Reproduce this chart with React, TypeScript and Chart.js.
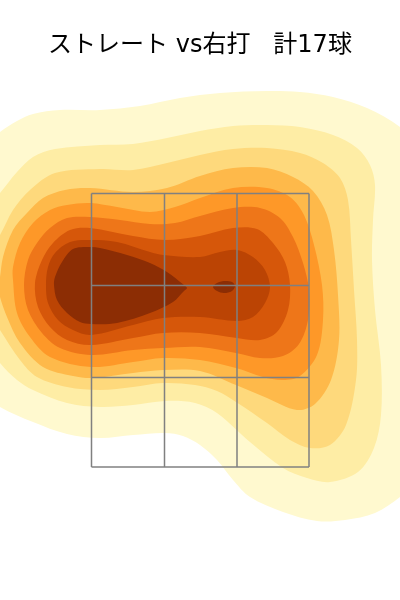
import React, { useEffect, useRef } from "react";
import { Chart, registerables } from "chart.js";

Chart.register(...registerables);

type P = [number, number];

const TITLE = "ストレート vs右打   計17球";

const zoneX = [91.5, 164.5, 237, 309];
const zoneY = [193.5, 285.5, 377.5, 467];
const ZONE_COLOR = "#808080";

const level1: P[] = [[-20,150],[0,132],[17,121],[33,114],[60,110],[100,110],[140,106],[180,98],[220,93],[267,91],[300,92],[333,97],[367,108],[400,127],[430,155],[430,470],[400,497],[375,513],[345,520],[317,521],[283,512],[250,497],[233,480],[217,460],[200,445],[183,436],[165,433],[133,435],[100,438],[67,434],[33,422],[0,407],[-20,390]];
const level2: P[] = [[-20,215],[0,193],[17,172],[33,157],[55,149],[100,145],[133,144],[167,138],[200,131],[233,126],[267,125],[300,127],[333,135],[357,148],[370,165],[375,185],[373,220],[372,260],[375,310],[381,365],[381,415],[374,448],[358,472],[330,482],[307,478],[283,468],[250,442],[217,413],[195,403],[165,401],[133,405],[100,407],[67,403],[33,390],[17,380],[0,363],[-20,335]];
const level3: P[] = [[-20,265],[0,235],[13,210],[30,190],[55,173],[100,169],[133,170],[167,163],[200,155],[233,149],[267,148],[300,153],[323,163],[340,178],[348,200],[351,240],[354,290],[357,340],[356,380],[346,425],[330,445],[310,448],[290,440],[267,423],[236,402],[217,391],[195,385],[163,383],[133,387],[100,390],[67,387],[37,377],[20,360],[0,330],[-20,298]];
const level4: P[] = [[-2,285],[0,277],[3,257],[13,230],[27,213],[43,198],[65,190],[90,188],[133,192],[167,188],[200,176],[233,168],[267,168],[293,177],[313,191],[327,215],[334,250],[338,295],[339,340],[331,380],[315,404],[297,410],[267,398],[236,385],[200,371],[163,370],[133,373],[93,378],[73,376],[43,367],[20,343],[7,317],[0,297]];
const level5: P[] = [[13,280],[13,267],[20,243],[33,223],[50,210],[67,205],[90,203],[117,207],[150,212],[175,207],[200,198],[233,188],[267,188],[290,197],[304,215],[314,245],[322,285],[323,320],[317,355],[300,376],[283,380],[263,377],[236,368],[200,360],[163,358],[133,362],[91,367],[50,357],[30,337],[17,313]];
const level6: P[] = [[24,285],[28,260],[37,243],[50,228],[67,218],[90,217],[120,220],[150,224],[175,223],[200,216],[233,208],[260,208],[280,218],[293,237],[303,263],[309,290],[308,320],[299,344],[283,356],[260,358],[236,353],[200,347],[163,348],[133,350],[91,355],[60,348],[42,333],[28,310]];
const level7: P[] = [[35,283],[42,260],[53,243],[70,230],[90,228],[133,236],[165,240],[200,236],[233,228],[257,229],[273,243],[285,262],[290,285],[288,310],[277,332],[260,340],[237,338],[200,333],[163,333],[133,338],[91,345],[67,340],[50,327],[38,307]];
const level8: P[] = [[46,285],[48,267],[55,253],[70,242],[90,240],[117,242],[150,252],[163,255],[200,257],[220,252],[237,250],[253,257],[265,270],[270,287],[265,303],[253,317],[237,321],[200,317],[163,318],[133,325],[91,335],[73,330],[58,320],[48,303]];
const level9: P[] = [[54,285],[55,277],[62,262],[73,249],[90,247],[100,248],[127,255],[150,263],[167,272],[184,285],[187,288],[184,291],[173,302],[150,313],[117,323],[91,324],[80,322],[67,313],[57,300]];
const level9b: P[] = [[213,287],[217,283],[224,281],[232,282],[235,286],[232,291],[224,293],[217,291]];

const levels: { points: P[]; color: string }[] = [
  { points: level9b, color: "#8c2d04" },
  { points: level9, color: "#8c2d04" },
  { points: level8, color: "#bb4404" },
  { points: level7, color: "#d6570a" },
  { points: level6, color: "#ee7619" },
  { points: level5, color: "#fe9828" },
  { points: level4, color: "#feb94a" },
  { points: level3, color: "#fed97c" },
  { points: level2, color: "#feeda5" },
  { points: level1, color: "#fff9cf" },
];

const toXY = (pts: P[]) => pts.map(([x, y]) => ({ x, y }));

export default function App() {
  const ref = useRef<HTMLCanvasElement>(null);
  useEffect(() => {
    if (!ref.current) return;
    const zoneLines = [
      ...zoneX.map((x) => [{ x, y: zoneY[0] }, { x, y: zoneY[3] }]),
      ...zoneY.map((y) => [{ x: zoneX[0], y }, { x: zoneX[3], y }]),
    ].map((data) => ({
      data,
      showLine: true,
      borderColor: ZONE_COLOR,
      borderWidth: 1.5,
      pointRadius: 0,
      fill: false,
      tension: 0,
    }));
    const fills = levels.map((l) => ({
      // wrap one point past each end so the spline stays smooth where the outline closes
      data: toXY([l.points[l.points.length - 1], ...l.points, l.points[0], l.points[1]]),
      showLine: true,
      backgroundColor: l.color,
      borderColor: l.color,
      borderWidth: 0,
      pointRadius: 0,
      fill: "shape",
      tension: 0.33,
      capBezierPoints: false,
    }));
    const chart = new Chart(ref.current, {
      type: "scatter",
      data: { datasets: [...zoneLines, ...fills] as any },
      options: {
        animation: false,
        responsive: false,
        layout: { padding: 0 },
        plugins: {
          legend: { display: false },
          tooltip: { enabled: false },
          title: {
            display: true,
            text: TITLE,
            color: "#000000",
            font: { family: "'DejaVu Sans', 'Noto Sans CJK JP'", size: 24, weight: "normal", lineHeight: 1.2 },
            padding: { top: 31, bottom: 20.2 },
          },
        },
        scales: {
          x: { type: "linear", min: 0, max: 400, display: false },
          y: { type: "linear", min: 80, max: 600, reverse: true, display: false },
        },
      },
    });
    return () => chart.destroy();
  }, []);
  return (
    <div style={{ position: "absolute", left: 0, top: 0, width: 400, height: 600 }}>
      <canvas ref={ref} width={400} height={600} style={{ display: "block" }} />
    </div>
  );
}
